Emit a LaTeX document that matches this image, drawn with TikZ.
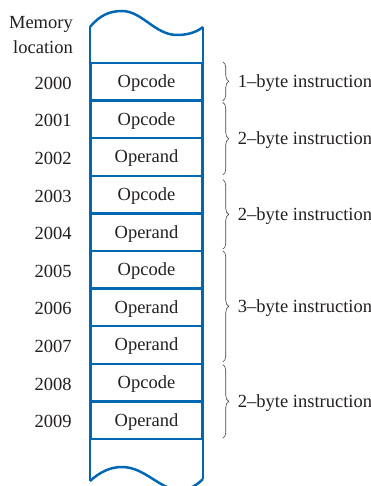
\documentclass[tikz,border=0pt]{standalone}
\usepackage{fontspec}
\setmainfont{Liberation Serif}
\usetikzlibrary{decorations.pathreplacing,calc}
\definecolor{memblue}{RGB}{0,104,178}
\definecolor{ink}{RGB}{35,31,32}
\begin{document}
\begin{tikzpicture}[x=1pt,y=-1pt,
  txt/.style={text=ink,font=\fontsize{18.5}{22}\selectfont,inner sep=0pt},
  cell/.style={txt,draw=memblue,line width=2.5pt,minimum width=112pt,minimum height=37.6pt,text depth=1pt},
  addr/.style={txt,anchor=east,yshift=-1.5pt},
  instr/.style={txt,anchor=west,yshift=-1.5pt},
  bracebar/.style={draw=ink!85,line width=0.6pt,decorate,decoration={brace,amplitude=6pt}},
  outline/.style={draw=memblue,line width=2.5pt}]
\useasboundingbox (0,0) rectangle (371,486);
\clip (0,0) rectangle (371,486);
% outer sides and wavy ends
\draw[outline] (203,27) -- (203,479);
\draw[outline] (90,27) .. controls (100,15) and (110,11) .. (122,11)
  .. controls (142,11) and (155,35) .. (177,35)
  .. controls (190,35) and (198,31) .. (203,27);
\draw[outline] (90,27) -- (90,481);
\draw[outline] (90,481) .. controls (100,472) and (110,467) .. (122,467)
  .. controls (145,467) and (160,490) .. (180,490)
  .. controls (190,490) and (198,484) .. (203,479);
% cells
\node[cell] (c0) at (146.5,81.8) {Opcode};
\node[cell] (c1) at (146.5,119.4) {Opcode};
\node[cell] (c2) at (146.5,157.0) {Operand};
\node[cell] (c3) at (146.5,194.6) {Opcode};
\node[cell] (c4) at (146.5,232.2) {Operand};
\node[cell] (c5) at (146.5,269.8) {Opcode};
\node[cell] (c6) at (146.5,307.4) {Operand};
\node[cell] (c7) at (146.5,345.0) {Operand};
\node[cell] (c8) at (146.5,382.6) {Opcode};
\node[cell] (c9) at (146.5,420.2) {Operand};
% header
\node[addr] (h1) at (73,23) {Memory};
\node[addr] (h2) at (73,46) {location};
% addresses
\node[addr] (a0) at ($(c0.west)+(-17.5,0)$) {2000};
\node[addr] (a1) at ($(c1.west)+(-17.5,0)$) {2001};
\node[addr] (a2) at ($(c2.west)+(-17.5,0)$) {2002};
\node[addr] (a3) at ($(c3.west)+(-17.5,0)$) {2003};
\node[addr] (a4) at ($(c4.west)+(-17.5,0)$) {2004};
\node[addr] (a5) at ($(c5.west)+(-17.5,0)$) {2005};
\node[addr] (a6) at ($(c6.west)+(-17.5,0)$) {2006};
\node[addr] (a7) at ($(c7.west)+(-17.5,0)$) {2007};
\node[addr] (a8) at ($(c8.west)+(-17.5,0)$) {2008};
\node[addr] (a9) at ($(c9.west)+(-17.5,0)$) {2009};
% braces
\coordinate (b0t) at ($(c0.north east)+(19,0)$);
\coordinate (b0b) at ($(c0.south east)+(19,-1)$);
\coordinate (b1t) at ($(c1.north east)+(19,3)$);
\coordinate (b1b) at ($(c2.south east)+(19,-2)$);
\coordinate (b2t) at ($(c3.north east)+(19,5)$);
\coordinate (b2b) at ($(c4.south east)+(19,-3)$);
\coordinate (b3t) at ($(c5.north east)+(19,1)$);
\coordinate (b3b) at ($(c7.south east)+(19,-3)$);
\coordinate (b4t) at ($(c8.north east)+(19,2)$);
\coordinate (b4b) at ($(c9.south east)+(19,-2)$);
\draw[bracebar] (b0t) -- (b0b);
\draw[bracebar] (b1t) -- (b1b);
\draw[bracebar] (b2t) -- (b2b);
\draw[bracebar] (b3t) -- (b3b);
\draw[bracebar] (b4t) -- (b4b);
\node[instr] (i0) at ($($(b0t)!0.5!(b0b)$)+(15,0)$) {1--byte instruction};
\node[instr] (i1) at ($($(b1t)!0.5!(b1b)$)+(15,0)$) {2--byte instruction};
\node[instr] (i2) at ($($(b2t)!0.5!(b2b)$)+(15,0)$) {2--byte instruction};
\node[instr] (i3) at ($($(b3t)!0.5!(b3b)$)+(15,0)$) {3--byte instruction};
\node[instr] (i4) at ($($(b4t)!0.5!(b4b)$)+(15,0)$) {2--byte instruction};
\end{tikzpicture}
\end{document}
